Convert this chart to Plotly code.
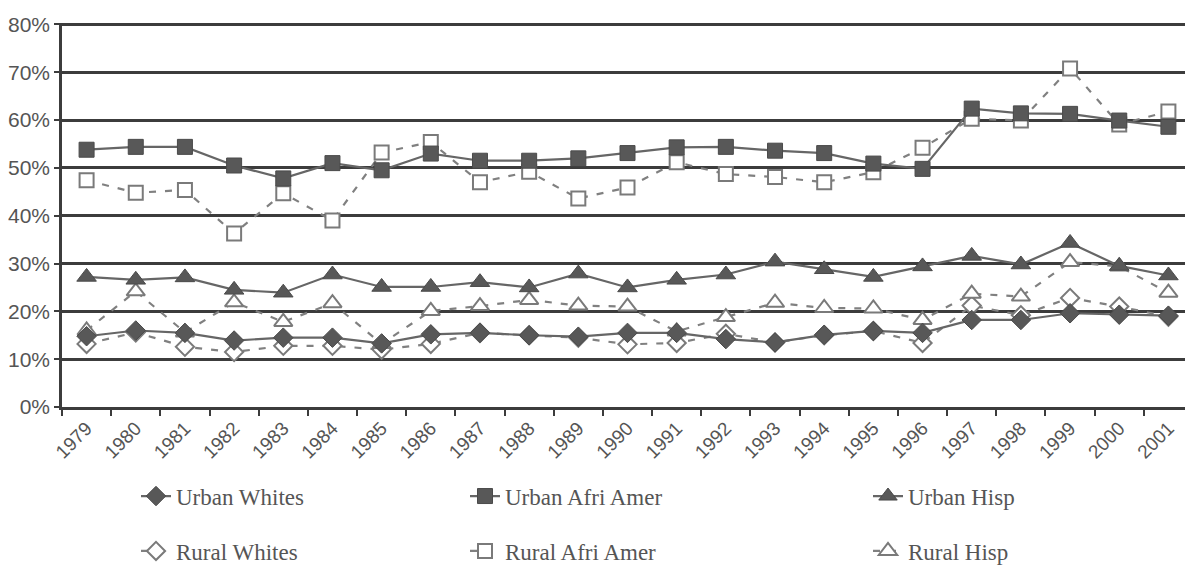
import plotly.graph_objects as go

years = [str(y) for y in range(1979, 2002)]

urban_whites = [14.8, 16.0, 15.5, 13.9, 14.5, 14.5, 13.3, 15.2, 15.5, 15.0, 14.7, 15.5, 15.5, 14.2, 13.5, 15.1, 15.9, 15.5, 18.2, 18.2, 19.6, 19.3, 19.1]
urban_afri = [53.8, 54.4, 54.4, 50.5, 47.8, 51.0, 49.5, 53.0, 51.5, 51.5, 52.0, 53.1, 54.3, 54.4, 53.6, 53.1, 50.9, 49.8, 62.4, 61.4, 61.3, 59.9, 58.6]
urban_hisp = [27.2, 26.6, 27.1, 24.5, 23.9, 27.7, 25.1, 25.1, 26.1, 25.0, 27.9, 25.0, 26.6, 27.7, 30.4, 28.8, 27.2, 29.4, 31.6, 29.8, 34.3, 29.5, 27.5]
rural_whites = [13.2, 15.6, 12.6, 11.5, 12.8, 12.8, 12.0, 13.2, 15.5, 15.0, 14.5, 13.1, 13.4, 15.3, 13.5, 15.0, 15.9, 13.4, 21.2, 19.2, 22.8, 21.0, 18.9]
rural_afri = [47.4, 44.8, 45.4, 36.3, 44.7, 39.0, 53.2, 55.4, 47.0, 49.2, 43.6, 45.9, 51.2, 48.7, 48.1, 47.0, 49.1, 54.2, 60.3, 59.9, 70.8, 59.1, 61.8]
rural_hisp = [16.0, 24.2, 15.6, 21.9, 17.8, 21.7, 13.2, 20.1, 21.1, 22.4, 21.2, 21.0, 15.8, 18.8, 21.8, 20.7, 20.6, 18.2, 23.7, 23.1, 30.3, 29.4, 23.9]

ytick_vals = [0, 10, 20, 30, 40, 50, 60, 70, 80]
ytick_text = ['0%', '10%', '20%', '30%', '40%', '50%', '60%', '70%', '80%']

fig = go.Figure()

LINE = '#666666'
FILL = '#585858'
OPEN = '#7a7a7a'

def add(name, ys, symbol, filled, legend, rank, size):
    if filled:
        marker = dict(symbol=symbol, size=size, color=FILL, line=dict(color='#4a4a4a', width=1))
        line = dict(color=LINE, width=2.2)
    else:
        marker = dict(symbol=symbol, size=size - 1, color='white', line=dict(color=OPEN, width=2))
        line = dict(color='#808080', width=2.2, dash='7px,9px')
    fig.add_trace(go.Scatter(x=years, y=ys, name=name, mode='lines+markers',
                             marker=marker, line=line, legend=legend,
                             legendgroup=name, legendrank=rank))

# rural drawn first so urban sits on top
add('Rural Whites', rural_whites, 'diamond', False, 'legend', 2, 15)
add('Rural Afri Amer', rural_afri, 'square', False, 'legend2', 2, 15)
add('Rural Hisp', rural_hisp, 'triangle-up', False, 'legend3', 2, 17)
add('Urban Whites', urban_whites, 'diamond', True, 'legend', 1, 15)
add('Urban Afri Amer', urban_afri, 'square', True, 'legend2', 1, 15)
add('Urban Hisp', urban_hisp, 'triangle-up', True, 'legend3', 1, 17)

legfont = dict(family='Liberation Serif, Times New Roman, serif', size=23, color='#555555')

# page body has an 8px margin: figure is 1185x560 and offset by 8px
PL, PW = 54, 1131

def leg(xpx):
    return dict(x=(xpx - 62) / PW, xanchor='left', y=-0.176, yanchor='top',
                orientation='v', font=legfont, tracegroupgap=22,
                bgcolor='rgba(0,0,0,0)', borderwidth=0, traceorder='grouped')

fig.update_layout(
    width=1185, height=560,
    margin=dict(l=PL, r=0, t=15, b=161, autoexpand=False),
    paper_bgcolor='white', plot_bgcolor='white',
    showlegend=True,
    legend=leg(136),
    legend2=leg(465),
    legend3=leg(868),
    font=dict(family='Liberation Sans, Arial, sans-serif', color='#555555'),
)

fig.update_xaxes(type='category', range=[-0.5, 22.5], tickson='boundaries',
                 ticks='outside', ticklen=6, tickwidth=2, tickcolor='#3c3c3c',
                 showline=True, linecolor='#3c3c3c', linewidth=2.5,
                 showgrid=False, tickangle=-45, automargin=False,
                 tickfont=dict(size=19, color='#555555'))
fig.update_yaxes(range=[0, 80.3], tickmode='array', tickvals=ytick_vals, ticktext=ytick_text,
                 ticks='outside', ticklen=5,
                 tickwidth=2, tickcolor='#3c3c3c', showline=True, linecolor='#3c3c3c',
                 linewidth=2.5, showgrid=True, gridcolor='#3c3c3c', gridwidth=2.5,
                 zeroline=False, automargin=False, tickfont=dict(size=21, color='#555555'))

fig.write_html('out.html')
